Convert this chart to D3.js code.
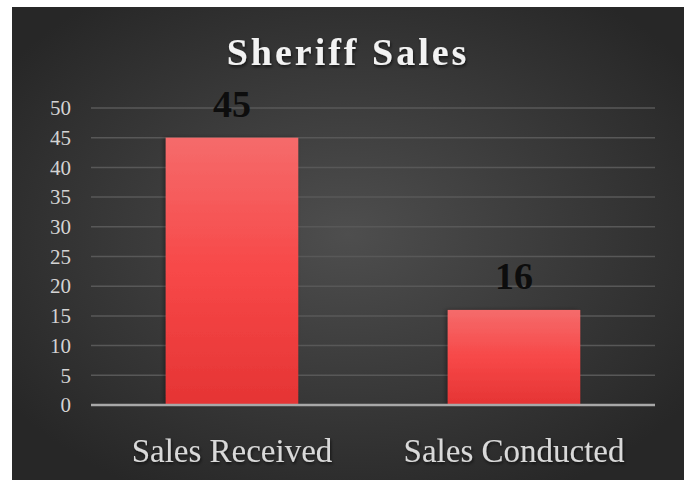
<!DOCTYPE html>
<html>
<head>
<meta charset="utf-8">
<script src="https://cdn.jsdelivr.net/npm/d3@7"></script>
<style>
  body { margin: 0; background: #fff; }
  svg { display: block; }
</style>
</head>
<body>
<div class="container"></div>
<script>
const categories = ["Sales Received", "Sales Conducted"];
const values = [45, 16];
const yTicks = [0, 5, 10, 15, 20, 25, 30, 35, 40, 45, 50];
const title = "Sheriff Sales";

const width = 691;
const height = 480;
const margin = { top: 108, right: 36, bottom: 75, left: 91 };
const innerWidth = width - margin.left - margin.right;
const innerHeight = height - margin.top - margin.bottom;
const serif = "'Liberation Serif', 'DejaVu Serif', serif";

const svg = d3
  .select(".container")
  .append("svg")
  .attr("width", width)
  .attr("height", height);

const defs = svg.append("defs");

const bg = defs
  .append("radialGradient")
  .attr("id", "bg")
  .attr("cx", "50%")
  .attr("cy", "48%")
  .attr("r", "62%");
bg.append("stop").attr("offset", "0%").attr("stop-color", "#4e4e4e");
bg.append("stop").attr("offset", "100%").attr("stop-color", "#272727");

const barGrad = defs
  .append("linearGradient")
  .attr("id", "bar")
  .attr("x1", 0)
  .attr("y1", 0)
  .attr("x2", 0)
  .attr("y2", 1);
barGrad.append("stop").attr("offset", "0%").attr("stop-color", "#f56b6b");
barGrad.append("stop").attr("offset", "50%").attr("stop-color", "#f74848");
barGrad.append("stop").attr("offset", "100%").attr("stop-color", "#e53434");

const shadow = defs.append("filter").attr("id", "shadow");
shadow
  .append("feDropShadow")
  .attr("dx", -2)
  .attr("dy", 0)
  .attr("stdDeviation", 2)
  .attr("flood-color", "#000")
  .attr("flood-opacity", 0.35);

const tshadow = defs.append("filter").attr("id", "tshadow");
tshadow
  .append("feDropShadow")
  .attr("dx", 1)
  .attr("dy", 2)
  .attr("stdDeviation", 1.5)
  .attr("flood-color", "#000")
  .attr("flood-opacity", 0.6);

// dark panel
svg
  .append("rect")
  .attr("x", 12)
  .attr("y", 7)
  .attr("width", 672)
  .attr("height", height - 7)
  .attr("fill", "url(#bg)");

svg
  .append("text")
  .attr("x", 348)
  .attr("y", 65)
  .attr("text-anchor", "middle")
  .attr("fill", "#f2f2f2")
  .style("font-family", serif)
  .style("font-size", "38px")
  .style("font-weight", "bold")
  .style("letter-spacing", "3px")
  .attr("filter", "url(#tshadow)")
  .text(title);

const g = svg
  .append("g")
  .attr("transform", `translate(${margin.left},${margin.top})`);

const xScale = d3
  .scaleBand()
  .domain(categories)
  .range([0, innerWidth])
  .paddingInner(0.53)
  .paddingOuter(0.265);

const yScale = d3.scaleLinear().domain([0, 50]).range([innerHeight, 0]);

// gridlines
g.append("g")
  .selectAll("line")
  .data(yTicks.filter((d) => d > 0))
  .enter()
  .append("line")
  .attr("x1", 0)
  .attr("x2", innerWidth)
  .attr("y1", (d) => yScale(d))
  .attr("y2", (d) => yScale(d))
  .attr("stroke", "#585858")
  .attr("stroke-width", 1.5);

const yAxis = d3.axisLeft(yScale).tickValues(yTicks).tickSize(0).tickPadding(20);
const yg = g.append("g").call(yAxis);
yg.select(".domain").remove();
yg.selectAll("text")
  .attr("fill", "#d4d4d4")
  .style("font-family", serif)
  .style("font-size", "21px");

g.selectAll("rect.bar")
  .data(values)
  .enter()
  .append("rect")
  .attr("class", "bar")
  .attr("x", (d, i) => xScale(categories[i]))
  .attr("y", (d) => yScale(d))
  .attr("width", xScale.bandwidth())
  .attr("height", (d) => innerHeight - yScale(d))
  .attr("fill", "url(#bar)")
  .attr("filter", "url(#shadow)");

// axis line
g.append("line")
  .attr("x1", 0)
  .attr("x2", innerWidth)
  .attr("y1", yScale(0))
  .attr("y2", yScale(0))
  .attr("stroke", "#a8a8a8")
  .attr("stroke-width", 2.5);

g.selectAll("text.label")
  .data(values)
  .enter()
  .append("text")
  .attr("class", "label")
  .attr("x", (d, i) => xScale(categories[i]) + xScale.bandwidth() / 2)
  .attr("y", (d) => yScale(d) - 21)
  .attr("text-anchor", "middle")
  .attr("fill", "#0d0d0d")
  .style("font-family", serif)
  .style("font-size", "38px")
  .style("font-weight", "bold")
  .text((d) => d);

const xAxis = d3.axisBottom(xScale).tickSize(0).tickPadding(34);
const xg = g.append("g").attr("transform", `translate(0,${innerHeight})`).call(xAxis);
xg.select(".domain").remove();
xg.selectAll("text")
  .attr("fill", "#d9d9d9")
  .style("font-family", serif)
  .style("font-size", "33px")
  .attr("filter", "url(#tshadow)");
</script>
</body>
</html>
